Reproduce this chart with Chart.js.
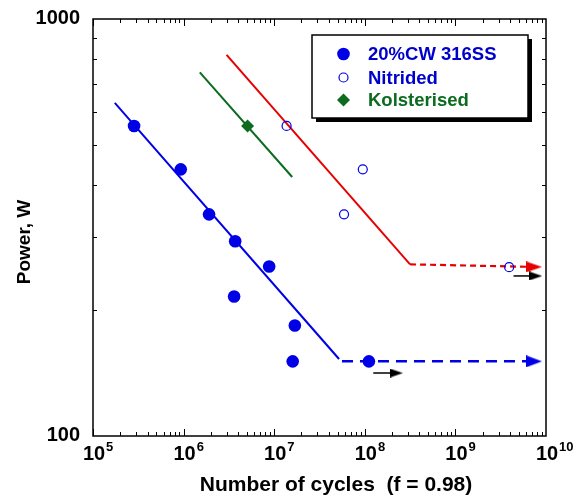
<!DOCTYPE html>
<html>
<head>
<meta charset="utf-8">
<script src="https://cdn.jsdelivr.net/npm/chart.js"></script>
<style>
html, body { margin: 0; padding: 0; background: #fff; }
</style>
</head>
<body>
<canvas id="fatigueChart" width="584" height="496"></canvas>
<script>
// Data (cycles, power in W)
const steelCycles = [2.84e5, 9.3e5, 1.91e6, 3.71e6, 8.8e6, 3.61e6, 1.69e7, 1.6e7, 1.11e8];
const steelPower = [554, 436, 340, 293, 255, 216, 184, 151, 151];
const nitridedCycles = [1.37e7, 9.5e7, 5.9e7, 3.92e9];
const nitridedPower = [554, 436, 340, 254];
const kolsterCycles = [5.08e6];
const kolsterPower = [554];

// fitted lines and run-out limits
const steelFitCycles = [1.74e5, 5.2e7];
const steelFitPower = [629, 153];
const steelLimitCycles = [5.6e7, 7.36e9];
const steelLimitPower = [151, 151];
const nitridedFitCycles = [2.98e6, 3.16e8];
const nitridedFitPower = [820, 258];
const nitridedLimitCycles = [3.16e8, 7.36e9];
const nitridedLimitPower = [258, 254.4];
const kolsterFitCycles = [1.51e6, 1.58e7];
const kolsterFitPower = [745, 418];

// run-out arrows (black)
const runout1Cycles = [1.24e8, 2.23e8];
const runout1Power = [141.6, 141.6];
const runout2Cycles = [4.38e9, 7.69e9];
const runout2Power = [242, 242];

// axes
const xDecades = [5, 6, 7, 8, 9, 10];
const yLabels = [100, 1000];
const legendNames = ['20%CW 316SS', 'Nitrided', 'Kolsterised'];

const BLUE = '#0000e6';
const RED = '#e60000';
const GREEN = '#0b6b1f';
const FONT = '"Liberation Sans", Arial, Helvetica, sans-serif';

function pts(xs, ys) {
    return xs.map((v, i) => ({ x: v, y: ys[i] }));
}

function arrowHead(color, w, h) {
    const c = document.createElement('canvas');
    c.width = w;
    c.height = h;
    const g = c.getContext('2d');
    g.fillStyle = color;
    g.beginPath();
    g.moveTo(0, 0);
    g.lineTo(w, h / 2);
    g.lineTo(0, h);
    g.closePath();
    g.fill();
    return c;
}

function lineSet(xs, ys, color, width, dash, head) {
    return {
        data: pts(xs, ys),
        showLine: true,
        borderColor: color,
        backgroundColor: color,
        borderWidth: width,
        borderDash: dash || [],
        pointRadius: head ? [0, 8] : 0,
        pointStyle: head || 'circle',
        tension: 0
    };
}

// frame, inward ticks, labels, titles
const framePlugin = {
    id: 'frame',
    afterDraw(chart) {
        const { ctx, chartArea: a, scales: { x, y } } = chart;
        ctx.save();
        ctx.strokeStyle = '#000';
        ctx.lineWidth = 1;
        ctx.beginPath();
        for (let e = 5; e < 10; e++) {
            for (let m = 1; m < 10; m++) {
                const px = Math.round(x.getPixelForValue(m * Math.pow(10, e))) + 0.5;
                const len = m === 1 ? 7 : 4;
                ctx.moveTo(px, a.bottom); ctx.lineTo(px, a.bottom - len);
                ctx.moveTo(px, a.top); ctx.lineTo(px, a.top + len);
            }
        }
        for (let m = 2; m < 10; m++) {
            const py = Math.round(y.getPixelForValue(m * 100)) + 0.5;
            ctx.moveTo(a.left, py); ctx.lineTo(a.left + 4, py);
            ctx.moveTo(a.right, py); ctx.lineTo(a.right - 4, py);
        }
        ctx.stroke();
        ctx.lineWidth = 1.5;
        ctx.strokeRect(a.left, a.top, a.right - a.left, a.bottom - a.top);

        ctx.fillStyle = '#000';
        // x tick labels 10^n
        xDecades.forEach(n => {
            const px = x.getPixelForValue(Math.pow(10, n));
            ctx.font = 'bold 20px ' + FONT;
            ctx.textAlign = 'center';
            ctx.textBaseline = 'alphabetic';
            const bw = ctx.measureText('10').width;
            ctx.fillText('10', px + 1, 460);
            ctx.font = 'bold 13px ' + FONT;
            ctx.textAlign = 'left';
            ctx.fillText(String(n), px + 1 + bw / 2 + 1, 451);
        });
        // y tick labels
        ctx.font = 'bold 20px ' + FONT;
        ctx.textAlign = 'right';
        ctx.textBaseline = 'middle';
        yLabels.forEach(v => {
            ctx.fillText(String(v), 80, y.getPixelForValue(v) - 1);
        });
        // axis titles
        ctx.font = 'bold 21px ' + FONT;
        ctx.textAlign = 'center';
        ctx.textBaseline = 'alphabetic';
        ctx.fillText('Number of cycles  (f = 0.98)', 336, 491);
        ctx.font = 'bold 19px ' + FONT;
        ctx.save();
        ctx.translate(30, 242);
        ctx.rotate(-Math.PI / 2);
        ctx.fillText('Power, W', 0, 0);
        ctx.restore();
        ctx.restore();
    }
};

// boxed legend with drop shadow
const legendPlugin = {
    id: 'boxLegend',
    afterDraw(chart) {
        const ctx = chart.ctx;
        const bx = 312, by = 35, bw = 216, bh = 83;
        ctx.save();
        ctx.fillStyle = '#000';
        ctx.fillRect(bx + 4, by + 4, bw, bh);
        ctx.fillStyle = '#fff';
        ctx.fillRect(bx, by, bw, bh);
        ctx.strokeStyle = '#000';
        ctx.lineWidth = 1.5;
        ctx.strokeRect(bx, by, bw, bh);

        const mx = 343.5;
        const rows = [54, 77.5, 100];
        // filled circle
        ctx.fillStyle = BLUE;
        ctx.beginPath(); ctx.arc(mx, rows[0], 6.3, 0, Math.PI * 2); ctx.fill();
        // hollow circle
        ctx.strokeStyle = BLUE;
        ctx.lineWidth = 1.2;
        ctx.beginPath(); ctx.arc(mx, rows[1], 4.5, 0, Math.PI * 2); ctx.stroke();
        // diamond
        ctx.fillStyle = GREEN;
        ctx.beginPath();
        ctx.moveTo(mx, rows[2] - 6.5); ctx.lineTo(mx + 6.5, rows[2]);
        ctx.lineTo(mx, rows[2] + 6.5); ctx.lineTo(mx - 6.5, rows[2]);
        ctx.closePath(); ctx.fill();

        ctx.font = 'bold 18.5px ' + FONT;
        ctx.textAlign = 'left';
        ctx.textBaseline = 'middle';
        const colors = ['#0000cc', '#0000cc', GREEN];
        legendNames.forEach((name, i) => {
            ctx.fillStyle = colors[i];
            ctx.fillText(name, 368, rows[i] + 1);
        });
        ctx.restore();
    }
};

const ctx = document.getElementById('fatigueChart').getContext('2d');
const chart = new Chart(ctx, {
    type: 'scatter',
    data: {
        datasets: [
            {
                label: legendNames[0],
                data: pts(steelCycles, steelPower),
                pointStyle: 'circle',
                pointRadius: 6.3,
                backgroundColor: BLUE,
                borderColor: BLUE,
                borderWidth: 0
            },
            {
                label: legendNames[1],
                data: pts(nitridedCycles, nitridedPower),
                pointStyle: 'circle',
                pointRadius: 4.5,
                backgroundColor: 'rgba(255,255,255,0)',
                borderColor: BLUE,
                borderWidth: 1.2
            },
            {
                label: legendNames[2],
                data: pts(kolsterCycles, kolsterPower),
                pointStyle: 'rectRot',
                pointRadius: 6.5,
                backgroundColor: GREEN,
                borderColor: GREEN,
                borderWidth: 0
            },
            lineSet(steelFitCycles, steelFitPower, BLUE, 2),
            lineSet(steelLimitCycles, steelLimitPower, BLUE, 2.5, [11, 7], arrowHead(BLUE, 16, 12)),
            lineSet(nitridedFitCycles, nitridedFitPower, RED, 2),
            lineSet(nitridedLimitCycles, nitridedLimitPower, RED, 2.2, [6, 4], arrowHead(RED, 16, 11)),
            lineSet(kolsterFitCycles, kolsterFitPower, GREEN, 2),
            lineSet(runout1Cycles, runout1Power, '#000', 1.5, null, arrowHead('#000', 13, 9)),
            lineSet(runout2Cycles, runout2Power, '#000', 1.5, null, arrowHead('#000', 13, 9))
        ]
    },
    options: {
        responsive: false,
        animation: false,
        events: [],
        layout: { padding: { left: 93, right: 38, top: 19, bottom: 60 } },
        plugins: {
            legend: { display: false },
            tooltip: { enabled: false }
        },
        scales: {
            x: { type: 'logarithmic', min: 1e5, max: 1e10, display: false },
            y: { type: 'logarithmic', min: 100, max: 1000, display: false }
        }
    },
    plugins: [framePlugin, legendPlugin]
});
</script>
</body>
</html>
